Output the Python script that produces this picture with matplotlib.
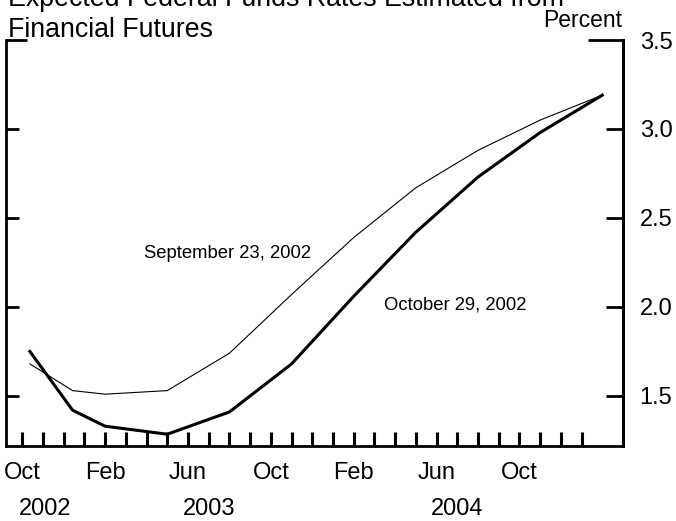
import matplotlib
matplotlib.use("Agg")
import matplotlib.pyplot as plt

plt.rcParams['font.family'] = ['Liberation Sans', 'DejaVu Sans']

# months counted from October 2002 (0 = Oct 2002)
x_months = [0.37, 2.43, 4, 7, 10, 13, 16, 19, 22, 25, 28]
sep23 = [1.68, 1.53, 1.51, 1.53, 1.74, 2.07, 2.39, 2.67, 2.88, 3.05, 3.19]
oct29 = [1.75, 1.42, 1.33, 1.285, 1.41, 1.68, 2.06, 2.42, 2.73, 2.98, 3.19]

month_ticks = list(range(28))
label_pos = [0, 4, 8, 12, 16, 20, 24]
label_txt = ['Oct', 'Feb', 'Jun', 'Oct', 'Feb', 'Jun', 'Oct']
years = ['2002', '2003', '2004']
year_pos = [1.12, 9.0, 21.0]
y_ticks = [1.5, 2.0, 2.5, 3.0]

fig = plt.figure(figsize=(6.76, 5.21), dpi=100)
ax = fig.add_axes([0.0096, 0.143, 0.912, 0.7802])

ax.plot(x_months, sep23, color='black', lw=0.8)
ax.plot(x_months, oct29, color='black', lw=2.2)

ax.set_xlim(-0.76, 29.0)
ax.set_ylim(1.216, 3.5)

ax.spines['top'].set_visible(False)
for side in ['left', 'right', 'bottom']:
    ax.spines[side].set_linewidth(2.0)

# x ticks: monthly, inward
ax.set_xticks(month_ticks)
lbls = [''] * len(month_ticks)
for p, t in zip(label_pos, label_txt):
    lbls[p] = t
ax.set_xticklabels(lbls, fontsize=17)
ax.tick_params(axis='x', direction='in', length=10, width=2.2, pad=11)

# left y ticks
ax.set_yticks(y_ticks)
ax.set_yticks([3.5], minor=True)
ax.tick_params(axis='y', which='major', direction='in', length=9, width=2,
               labelleft=False, right=False)
ax.tick_params(axis='y', which='minor', direction='in', length=15, width=2,
               labelleft=False, right=False)

# right y ticks with labels
ax2 = ax.twinx()
ax2.set_ylim(ax.get_ylim())
ax2.set_yticks(y_ticks + [3.5])
ax2.set_yticklabels([f'{v:.1f}' for v in y_ticks + [3.5]], fontsize=17)
ax2.tick_params(axis='y', direction='in', length=12, width=2, pad=12)
ax2.yaxis.get_major_ticks()[-1].tick2line.set_markersize(25)
for side in ['top', 'left', 'bottom']:
    ax2.spines[side].set_visible(False)
ax2.spines['right'].set_linewidth(2.0)

for yr, xp in zip(years, year_pos):
    ax.text(xp, -0.154, yr, transform=ax.get_xaxis_transform(),
            ha='center', va='center', fontsize=17, clip_on=False)

ax.text(5.88, 2.298, 'September 23, 2002', fontsize=13.3, va='center', ha='left')
ax.text(17.47, 2.011, 'October 29, 2002', fontsize=13.3, va='center', ha='left')

fig.text(0.0115, 1 - 6 / 521, 'Expected Federal Funds Rates Estimated from',
         fontsize=19.3, ha='left', va='baseline')
fig.text(0.0115, 1 - 37 / 521, 'Financial Futures',
         fontsize=19.3, ha='left', va='baseline')
fig.text(0.921, 1 - 27 / 521, 'Percent', fontsize=16.5, ha='right', va='baseline')

fig.savefig('out.png', dpi=100)
